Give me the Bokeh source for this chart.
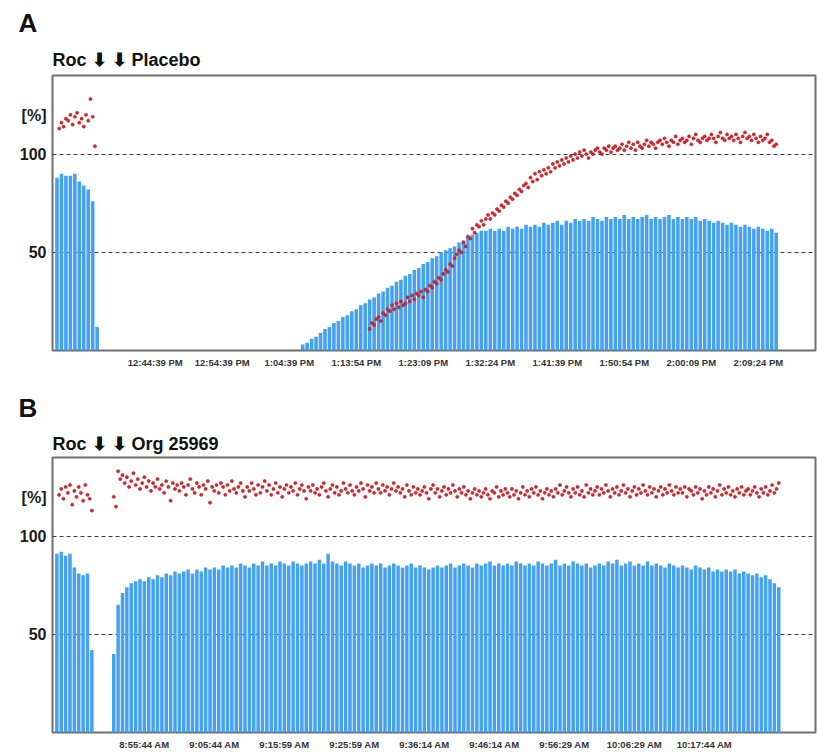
import numpy as np
from bokeh.plotting import figure
from bokeh.layouts import column
from bokeh.models import Range1d, FixedTicker, Title
from bokeh.embed import file_html
from bokeh.resources import INLINE

# ---------------- Panel A data ----------------
a_tick_labels = ["12:44:39 PM", "12:54:39 PM", "1:04:39 PM", "1:13:54 PM", "1:23:09 PM",
                 "1:32:24 PM", "1:41:39 PM", "1:50:54 PM", "2:00:09 PM", "2:09:24 PM"]
a_tick_pos = [23, 38, 53, 68, 83, 98, 113, 128, 143, 158]
a_bar_left_start = 1
a_bar_left = [88, 90, 89, 89, 90, 86, 84, 82, 76, 12]
a_bar_right_start = 56
a_bar_right = [3, 4, 6, 7, 9, 11, 12, 14, 15, 17,
               18, 20, 21, 23, 24, 26, 27, 29, 30, 32,
               33, 35, 36, 38, 39, 41, 42, 44, 45, 47,
               48, 50, 51, 52, 53, 55, 56, 58, 59, 60,
               61, 61, 62, 61, 62, 61, 63, 62, 63, 62,
               64, 63, 64, 63, 65, 64, 65, 66, 64, 66,
               65, 67, 66, 67, 66, 68, 67, 66, 68, 67,
               68, 67, 69, 67, 68, 67, 68, 69, 67, 68,
               67, 68, 69, 67, 68, 67, 68, 67, 68, 66,
               67, 66, 65, 66, 65, 64, 65, 64, 63, 64,
               63, 62, 63, 62, 61, 62, 60]
a_dot_left_start = 1.5
a_dot_left = [113, 116, 114, 118, 117, 120, 115, 119, 121, 116, 118, 114, 120, 117, 128, 119, 104]
a_dot_right_start = 71
a_dot_right = [11, 14, 13, 16, 17, 15, 19, 18, 21, 20,
               23, 21, 24, 22, 25, 23, 24, 27, 25, 28,
               26, 29, 28, 30, 27, 31, 30, 33, 32, 35,
               34, 37, 36, 39, 41, 40, 44, 43, 47, 49,
               51, 50, 55, 53, 58, 57, 62, 60, 64, 63,
               66, 64, 67, 69, 67, 70, 69, 72, 71, 74,
               73, 76, 75, 78, 77, 80, 79, 82, 81, 84,
               85, 83, 88, 86, 90, 87, 91, 89, 92, 90,
               93, 91, 95, 93, 96, 94, 97, 95, 98, 96,
               99, 97, 100, 98, 101, 99, 102, 100, 98, 101,
               100, 102, 103, 101, 100, 103, 102, 104, 101, 103,
               104, 102, 103, 105, 102, 104, 106, 103, 105, 102,
               106, 104, 103, 105, 107, 104, 106, 105, 103, 106,
               107, 105, 108, 106, 104, 107, 106, 109, 105, 107,
               108, 106, 107, 109, 105, 108, 110, 107, 106, 108,
               109, 107, 108, 110, 108, 106, 109, 111, 108, 107,
               110, 108, 109, 107, 110, 108, 106, 109, 111, 108,
               109, 107, 110, 108, 106, 109, 107, 108, 110, 106,
               107, 104, 105]

# ---------------- Panel B data ----------------
b_tick_labels = ["8:55:44 AM", "9:05:44 AM", "9:15:59 AM", "9:25:59 AM", "9:36:14 AM",
                 "9:46:14 AM", "9:56:29 AM", "10:06:29 AM", "10:17:44 AM"]
b_tick_pos = [21, 37, 53, 69, 85, 101, 117, 133, 149]
b_bar_left_start = 1
b_bar_left = [91, 92, 90, 91, 84, 81, 80, 81, 42]
b_bar_right_start = 14
b_bar_right = [40, 65, 71, 74, 76, 77, 78, 77, 79, 78,
               80, 79, 81, 80, 82, 81, 82, 83, 81, 83,
               82, 84, 83, 84, 83, 85, 84, 85, 84, 86,
               85, 84, 86, 85, 87, 85, 86, 85, 87, 86,
               85, 87, 86, 85, 86, 87, 86, 88, 86, 91,
               87, 86, 85, 87, 86, 85, 86, 84, 85, 86,
               85, 86, 84, 85, 86, 85, 84, 85, 86, 84,
               85, 84, 83, 84, 85, 84, 85, 86, 84, 85,
               86, 85, 84, 86, 85, 86, 87, 85, 86, 85,
               86, 85, 87, 86, 85, 86, 85, 87, 86, 85,
               86, 88, 85, 86, 85, 87, 86, 85, 86, 84,
               85, 86, 85, 87, 86, 88, 85, 86, 87, 85,
               86, 85, 87, 85, 86, 85, 84, 86, 85, 84,
               85, 84, 83, 85, 84, 83, 84, 82, 83, 82,
               83, 82, 83, 81, 82, 81, 80, 81, 79, 80,
               78, 76, 74]
b_dot_left_start = 1.5
b_dot_left = [121, 124, 119, 125, 122, 126, 116, 123, 120, 125, 122, 118, 126, 121, 119, 113]
b_dot_right_start = 14
b_dot_right = [120, 115, 133, 129, 131, 127, 130, 125, 128, 132,
               126, 129, 124, 127, 130, 125, 128, 123, 127, 125,
               129, 124, 126, 122, 128, 125, 118, 127, 124, 126,
               123, 127, 125, 121, 126, 129, 124, 122, 127, 125,
               121, 126, 124, 128, 117, 125, 123, 126, 122, 127,
               125, 121, 126, 123, 128, 124, 122, 125, 127, 123,
               120, 125, 123, 127, 124, 121, 126, 122, 125, 128,
               123, 126, 121, 124, 127, 122, 125, 120, 124, 126,
               122, 125, 123, 127, 121, 124, 126, 123, 119, 125,
               123, 126, 122, 124, 121, 125, 127, 123, 120, 124,
               126, 122, 125, 121, 123, 127, 124, 122, 126, 123,
               121, 125, 123, 127, 124, 120, 126, 123, 125, 122,
               127, 124, 122, 126, 123, 125, 121, 124, 127, 123,
               125, 122, 124, 120, 126, 123, 121, 125, 122, 124,
               121, 123, 125, 122, 119, 124, 126, 122, 124, 120,
               123, 125, 121, 124, 122, 126, 123, 120, 124, 122,
               125, 121, 123, 119, 122, 124, 121, 123, 120, 122,
               124, 121, 119, 123, 122, 125, 120, 123, 121, 124,
               122, 120, 124, 121, 123, 119, 122, 125, 121, 123,
               120, 124, 122, 125, 121, 123, 119, 122, 124, 121,
               123, 120, 124, 122, 126, 121, 123, 125, 122, 120,
               124, 122, 125, 121, 123, 120, 126, 122, 124, 121,
               123, 125, 121, 124, 122, 126, 123, 120, 124, 122,
               125, 121, 123, 126, 122, 124, 120, 123, 125, 121,
               124, 122, 126, 123, 121, 125, 122, 124, 120, 123,
               125, 121, 124, 122, 126, 123, 121, 125, 122, 124,
               122, 125, 120, 124, 123, 121, 125, 122, 124, 119,
               123, 121, 125, 122, 124, 120, 123, 126, 121, 124,
               122, 125, 121, 123, 120, 124, 122, 125, 121, 123,
               124, 121, 123, 125, 122, 120, 124, 122, 125, 121,
               123, 126, 122, 124, 127]

y_ticks = [50, 100, 119.5]
y_labels = {50: "50", 100: "100", 119.5: "[%]"}

BAR = "#44a1f3"
DOT = "#e3232b"
DOT_EDGE = "#a3161c"
FONT = "Liberation Sans"
ARROW = "\u2b07"


def make_panel(letter, header, tick_pos, tick_labels, xmax, height, top, bottom, head_standoff,
               bl_start, bl, br_start, br, dl_start, dl, dr_start, dr):
    p = figure(width=817, height=height, output_backend="svg", toolbar_location=None,
               x_range=Range1d(0, xmax), y_range=Range1d(0, 140),
               min_border_left=52, min_border_right=2, min_border_top=top,
               min_border_bottom=bottom)
    p.background_fill_color = "white"
    p.border_fill_color = "white"
    p.outline_line_color = "#6e6e6e"
    p.outline_line_width = 2

    # bars
    xl = bl_start + np.arange(len(bl))
    xr = br_start + np.arange(len(br))
    p.vbar(x=xl, top=bl, width=0.8, bottom=0, fill_color=BAR, line_color=None)
    p.vbar(x=xr, top=br, width=0.8, bottom=0, fill_color=BAR, line_color=None)

    # dots
    dxl = dl_start + 0.5 * np.arange(len(dl))
    dxr = dr_start + 0.5 * np.arange(len(dr))
    p.scatter(x=dxl, y=dl, size=3.2, fill_color=DOT, line_color=DOT_EDGE, line_width=0.5)
    p.scatter(x=dxr, y=dr, size=3.2, fill_color=DOT, line_color=DOT_EDGE, line_width=0.5)

    # grid
    p.xgrid.grid_line_color = None
    p.ygrid.ticker = FixedTicker(ticks=[50, 100])
    p.ygrid.grid_line_color = "#3a3a3a"
    p.ygrid.grid_line_dash = "4 3"
    p.ygrid.grid_line_width = 1.2

    # axes
    for ax in (p.xaxis, p.yaxis):
        ax.axis_line_color = None
        ax.major_tick_line_color = None
        ax.minor_tick_line_color = None
        ax.major_tick_out = 0
        ax.major_tick_in = 0
        ax.minor_tick_out = 0
        ax.minor_tick_in = 0
        ax.major_label_text_font = FONT
        ax.major_label_text_font_style = "bold"

    p.xaxis.ticker = FixedTicker(ticks=tick_pos)
    p.xaxis.major_label_overrides = {t: l for t, l in zip(tick_pos, tick_labels)}
    p.xaxis.major_label_text_font_size = "9.5px"
    p.xaxis.major_label_text_color = "#333333"
    p.xaxis.major_label_standoff = 6

    p.yaxis.ticker = FixedTicker(ticks=y_ticks)
    p.yaxis.major_label_overrides = y_labels
    p.yaxis.major_label_text_font_size = "16px"
    p.yaxis.major_label_text_color = "#1a1a1a"
    p.yaxis.major_label_standoff = 6

    # headings
    p.add_layout(Title(text=header, align="left", offset=0, standoff=head_standoff,
                       text_font=FONT, text_font_style="bold", text_font_size="18px",
                       text_color="#111111"), "above")
    p.add_layout(Title(text=letter, align="left", offset=-34, standoff=10,
                       text_font=FONT, text_font_style="bold", text_font_size="26px",
                       text_color="#111111"), "above")
    return p


pA = make_panel("A", f"Roc {ARROW} {ARROW} Placebo", a_tick_pos, a_tick_labels, 170.8,
                384, 75, 34, 11,
                a_bar_left_start, a_bar_left, a_bar_right_start, a_bar_right,
                a_dot_left_start, a_dot_left, a_dot_right_start, a_dot_right)
pB = make_panel("B", f"Roc {ARROW} {ARROW} Org 25969", b_tick_pos, b_tick_labels, 174.4,
                368, 73, 19, 8,
                b_bar_left_start, b_bar_left, b_bar_right_start, b_bar_right,
                b_dot_left_start, b_dot_left, b_dot_right_start, b_dot_right)

layout = column(pA, pB, spacing=0)
open("out.html", "w").write(file_html(layout, INLINE))
